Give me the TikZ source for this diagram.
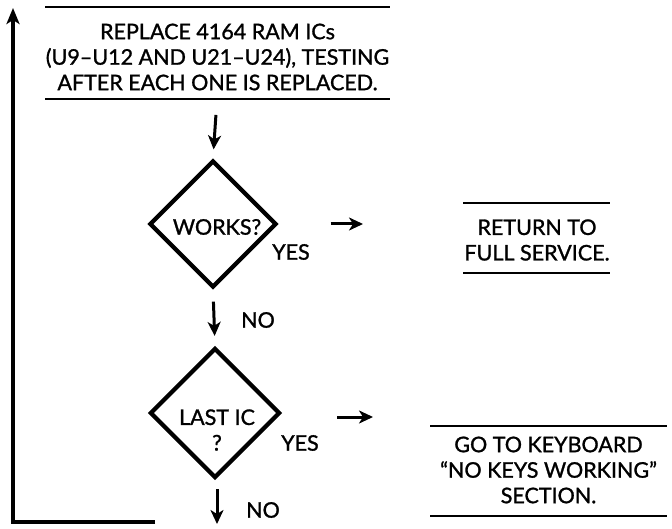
\documentclass[tikz,border=0pt]{standalone}
\usepackage{fontspec}
\setmainfont{Lato}[FakeBold=1.2]
\usetikzlibrary{shapes.geometric,arrows.meta}
\tikzset{
  txt/.style={font=\fontsize{21.5pt}{25.5pt}\selectfont, align=center, inner sep=0pt},
  rule/.style={line width=2.8pt},
  dia/.style={draw, shape=diamond, line width=4.2pt, inner sep=0pt, minimum width=#1, minimum height=#1},
  arr/.style={line width=3pt, -{Stealth[length=14pt,width=13pt,inset=4pt]}},
  loopline/.style={line width=3.4pt}
}
\begin{document}
\begin{tikzpicture}[x=1pt,y=-1pt]
\useasboundingbox (0,0) rectangle (672,529);
% top box
\node[txt] (top) at (217.5,57) {REPLACE 4164 RAM ICs\\(U9–U12 AND U21–U24), TESTING\\AFTER EACH ONE IS REPLACED.};
\coordinate (tnw) at (45,7); \coordinate (tne) at (390,7);
\coordinate (tsw) at (45,99); \coordinate (tse) at (390,99);
\draw[rule] (tnw) -- (tne);
\draw[rule] (tsw) -- (tse);
% works diamond
\node[dia=127pt] (works) at (213,224) {};
\node[txt] (worksl) at (217,227) {WORKS?};
\node[txt] (yes1) at (291,252) {YES};
% return box
\node[txt] (ret) at (537,240) {RETURN TO\\FULL SERVICE.};
\coordinate (rnw) at (463,203); \coordinate (rne) at (610,203);
\coordinate (rsw) at (463,273); \coordinate (rse) at (610,273);
\draw[rule] (rnw) -- (rne);
\draw[rule] (rsw) -- (rse);
% last IC diamond
\node[dia=130pt] (last) at (215,413) {};
\node[txt] (lastl) at (217,430) {LAST IC\\?};
\node[txt] (yes2) at (300,443) {YES};
\node[txt] (no1) at (258,320) {NO};
\node[txt] (no2) at (263,510) {NO};
% go box
\node[txt] (go) at (548.5,470) {GO TO KEYBOARD\\``NO KEYS WORKING''\\SECTION.};
\coordinate (gnw) at (430,426); \coordinate (gne) at (667,426);
\coordinate (gsw) at (430,516); \coordinate (gse) at (667,516);
\draw[rule] (gnw) -- (gne);
\draw[rule] (gsw) -- (gse);
% connectors
\coordinate (tbot) at (217,99);
\draw[arr, shorten <=16pt, shorten >=9pt] (tbot) -- (works.north);
\draw[arr, shorten <=52pt, shorten >=100pt] (works.east) -- (works.east -| rnw);
\draw[arr, shorten <=12pt, shorten >=10pt] (works.south) -- (last.north);
\coordinate (lastr) at (280,417);
\draw[arr, shorten <=57pt, shorten >=57pt] (lastr) -- (lastr -| gnw);
\coordinate (lastout) at (217,524);
\draw[arr, shorten <=9pt] ([xshift=2pt]last.south) -- (lastout);
% loop back
\coordinate (lpa) at (155,522);
\coordinate (lpb) at (13,522);
\coordinate (lpc) at (13,8);
\draw[loopline, -{Stealth[length=16pt,width=13pt,inset=4pt]}] (lpa) -- (lpb) -- (lpc);
\end{tikzpicture}
\end{document}
